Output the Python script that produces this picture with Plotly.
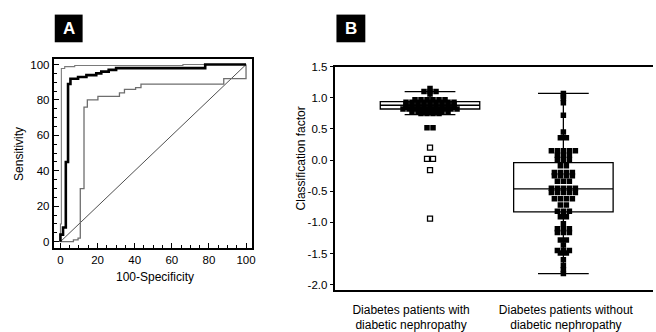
import plotly.graph_objects as go

W, H = 656, 332
FONT = "Liberation Sans, Arial, sans-serif"

# ---- Panel A: ROC curves (operating points: 100-specificity, sensitivity) ----
roc_outer_fpr = [0, 0, 0.5, 2.3, 7.7, 66, 100]
roc_outer_tpr = [0, 10, 97.8, 98.8, 99.5, 100, 100]

roc_bold_fpr = [0, 0, 1.4, 2.9, 4.1, 5.4, 9.5, 14, 19.3, 22, 26, 30, 78, 100]
roc_bold_tpr = [0, 4, 8, 45, 89, 92, 93, 94, 95, 96, 97, 98, 100, 100]

roc_inner_fpr = [0, 7, 9.5, 10.7, 12.7, 14.5, 20.2, 31.8, 34.5, 40.5, 43.4, 88, 100]
roc_inner_tpr = [0, 1, 2, 30, 76, 80, 82, 84, 86, 87, 89, 92, 100]

diag_x = [0, 100]
diag_y = [0, 100]

# ---- Panel B: classification factor by group ----
groups = ["Diabetes patients with<br>diabetic nephropathy",
          "Diabetes patients without<br>diabetic nephropathy"]
group_pos = [0, 1]
label_pos = [-0.142, 1.019]

# box statistics per group
box_q1 = [0.82, -0.83]
box_median = [0.88, -0.46]
box_q3 = [0.94, -0.04]
box_low = [0.73, -1.82]
box_high = [1.10, 1.07]

# individual values (filled squares)
dn_values = [
    1.15, 1.10, 1.10, 1.10, 1.06,
    0.97, 0.97, 0.97, 0.97, 0.97, 0.97,
    0.93, 0.93, 0.93, 0.93, 0.93, 0.93, 0.93, 0.93, 0.93,
    0.89, 0.89, 0.89, 0.89, 0.89, 0.89, 0.89, 0.89, 0.89,
    0.85, 0.85, 0.85, 0.85, 0.85, 0.85, 0.85, 0.85, 0.85,
    0.82, 0.82, 0.82, 0.82, 0.82, 0.82, 0.82, 0.82, 0.82, 0.82,
    0.78, 0.78, 0.78, 0.78, 0.78, 0.78, 0.78,
    0.75, 0.75, 0.75, 0.75,
    0.52, 0.52,
]
# far-out values (open squares)
dn_outliers = [0.20, 0.02, 0.02, -0.16, -0.94]

ndn_values = [
    1.07, 1.03, 0.99, 0.92, 0.72, 0.45,
    0.36, 0.36,
    0.15, 0.15, 0.15, 0.15, 0.15,
    0.08, 0.08, 0.08,
    0.01, 0.01, 0.01,
    -0.09, -0.09,
    -0.20, -0.20, -0.20, -0.20,
    -0.25, -0.25, -0.25, -0.25,
    -0.34, -0.34, -0.34,
    -0.45, -0.45, -0.45, -0.45, -0.45,
    -0.52, -0.52, -0.52, -0.52, -0.52,
    -0.62, -0.62, -0.62, -0.62,
    -0.72, -0.72,
    -0.82, -0.82, -0.82,
    -0.91, -0.91,
    -1.02,
    -1.10, -1.10, -1.10,
    -1.16, -1.16, -1.16,
    -1.28, -1.28,
    -1.36,
    -1.45, -1.45, -1.45,
    -1.49, -1.49,
    -1.60, -1.69, -1.76, -1.82,
]

y_ticks = [-2.0, -1.5, -1.0, -0.5, 0.0, 0.5, 1.0, 1.5]
y_tick_text = ["-2.0", "-1.5", "-1.0", "-0.5", "0.0", "0.5", "1.0", "1.5"]


def swarm(values, center, step):
    """Spread equal values side by side around the group centre."""
    counts = {}
    for v in values:
        counts[v] = counts.get(v, 0) + 1
    seen = {}
    xs = []
    for v in values:
        i = seen.get(v, 0)
        seen[v] = i + 1
        xs.append(center + (i - (counts[v] - 1) / 2) * step)
    return xs


STEP = 0.045

fig = go.Figure()

# Panel A traces
fig.add_trace(go.Scatter(x=diag_x, y=diag_y, mode="lines",
                         line=dict(color="#222", width=0.8),
                         xaxis="x", yaxis="y", showlegend=False))
fig.add_trace(go.Scatter(x=roc_inner_fpr, y=roc_inner_tpr, mode="lines",
                         line=dict(color="#6e6e6e", width=1.3, shape="hv"),
                         xaxis="x", yaxis="y", showlegend=False))
fig.add_trace(go.Scatter(x=roc_outer_fpr, y=roc_outer_tpr, mode="lines",
                         line=dict(color="#7a7a7a", width=1.1, shape="hv"),
                         xaxis="x", yaxis="y", showlegend=False))
fig.add_trace(go.Scatter(x=roc_bold_fpr, y=roc_bold_tpr, mode="lines",
                         line=dict(color="black", width=2.6, shape="hv"),
                         xaxis="x", yaxis="y", showlegend=False))

# Panel B boxes
for i in range(2):
    fig.add_trace(go.Box(
        x=[group_pos[i]], q1=[box_q1[i]], median=[box_median[i]], q3=[box_q3[i]],
        lowerfence=[box_low[i]], upperfence=[box_high[i]],
        width=0.746, whiskerwidth=0.51, boxpoints=False,
        line=dict(color="black", width=1.3), fillcolor="white",
        xaxis="x2", yaxis="y2", showlegend=False, hoverinfo="skip"))

# Panel B points
fig.add_trace(go.Scatter(
    x=swarm(dn_values, group_pos[0], STEP), y=dn_values, mode="markers",
    marker=dict(symbol="square", size=5.5, color="black"),
    xaxis="x2", yaxis="y2", showlegend=False))
fig.add_trace(go.Scatter(
    x=swarm(dn_outliers, group_pos[0], STEP), y=dn_outliers, mode="markers",
    marker=dict(symbol="square", size=5, color="white",
                line=dict(color="black", width=1.3)),
    xaxis="x2", yaxis="y2", showlegend=False))
fig.add_trace(go.Scatter(
    x=swarm(ndn_values, group_pos[1], STEP), y=ndn_values, mode="markers",
    marker=dict(symbol="square", size=5.5, color="black"),
    xaxis="x2", yaxis="y2", showlegend=False))

tickfont = dict(family=FONT, size=11.5, color="black")
labelfont = dict(family=FONT, size=12, color="black")


def note(text, px, py, **kw):
    return dict(text=text, xref="paper", yref="paper", x=px / W, y=1 - py / H,
                xanchor="center", yanchor="middle", showarrow=False, **kw)


fig.update_layout(
    width=W, height=H,
    margin=dict(l=0, r=0, t=0, b=0),
    paper_bgcolor="white", plot_bgcolor="white",
    font=dict(family=FONT, size=11, color="black"),
    xaxis=dict(domain=[54 / W, 253.5 / W], range=[-3.6, 103.4], anchor="y",
               tickmode="linear", tick0=0, dtick=20, ticks="inside", ticklen=5,
               tickwidth=1, tickcolor="black",
               minor=dict(dtick=5, ticks="inside", ticklen=3, tickcolor="black"),
               showline=True, linewidth=2, linecolor="black", mirror=True,
               showgrid=False, zeroline=False, tickfont=tickfont),
    yaxis=dict(domain=[1 - 253.5 / H, 1 - 55 / H], range=[-3.6, 103.4], anchor="x",
               tickmode="linear", tick0=0, dtick=20, ticks="inside", ticklen=5,
               tickwidth=1, tickcolor="black",
               minor=dict(dtick=5, ticks="inside", ticklen=3, tickcolor="black"),
               showline=True, linewidth=2, linecolor="black", mirror=True,
               showgrid=False, zeroline=False, tickfont=tickfont),
    xaxis2=dict(domain=[337 / W, 1.0], range=[-0.709, 1.672], anchor="y2",
                tickmode="array", tickvals=label_pos, ticktext=groups, ticks="",
                ticklabelstandoff=8,
                showline=True, linewidth=1.5, linecolor="black", mirror=True,
                showgrid=False, zeroline=False, tickfont=labelfont),
    yaxis2=dict(domain=[1 - 297 / H, 1 - 63.5 / H], range=[-2.077, 1.5], anchor="x2",
                tickmode="array", tickvals=y_ticks, ticktext=y_tick_text,
                ticks="outside", ticklen=4, tickwidth=1, tickcolor="black",
                showline=True, linewidth=1.5, linecolor="black",
                showgrid=False, zeroline=False, tickfont=tickfont),
    shapes=[
        dict(type="rect", xref="paper", yref="paper",
             x0=55 / W, x1=83 / W, y0=1 - 38 / H, y1=1 - 9 / H,
             fillcolor="black", line=dict(width=0)),
        dict(type="rect", xref="paper", yref="paper",
             x0=338 / W, x1=367 / W, y0=1 - 38 / H, y1=1 - 9 / H,
             fillcolor="black", line=dict(width=0)),
    ],
    annotations=[
        note("<b>A</b>", 69, 24, font=dict(family=FONT, size=17, color="white")),
        note("<b>B</b>", 352.5, 24, font=dict(family=FONT, size=17, color="white")),
        note("100-Specificity", 156, 284, font=labelfont),
        note("Sensitivity", 19, 155, textangle=-90, font=labelfont),
        note("Classification factor", 302, 160, textangle=-90, font=labelfont),
    ],
)

fig.write_html("out.html")
